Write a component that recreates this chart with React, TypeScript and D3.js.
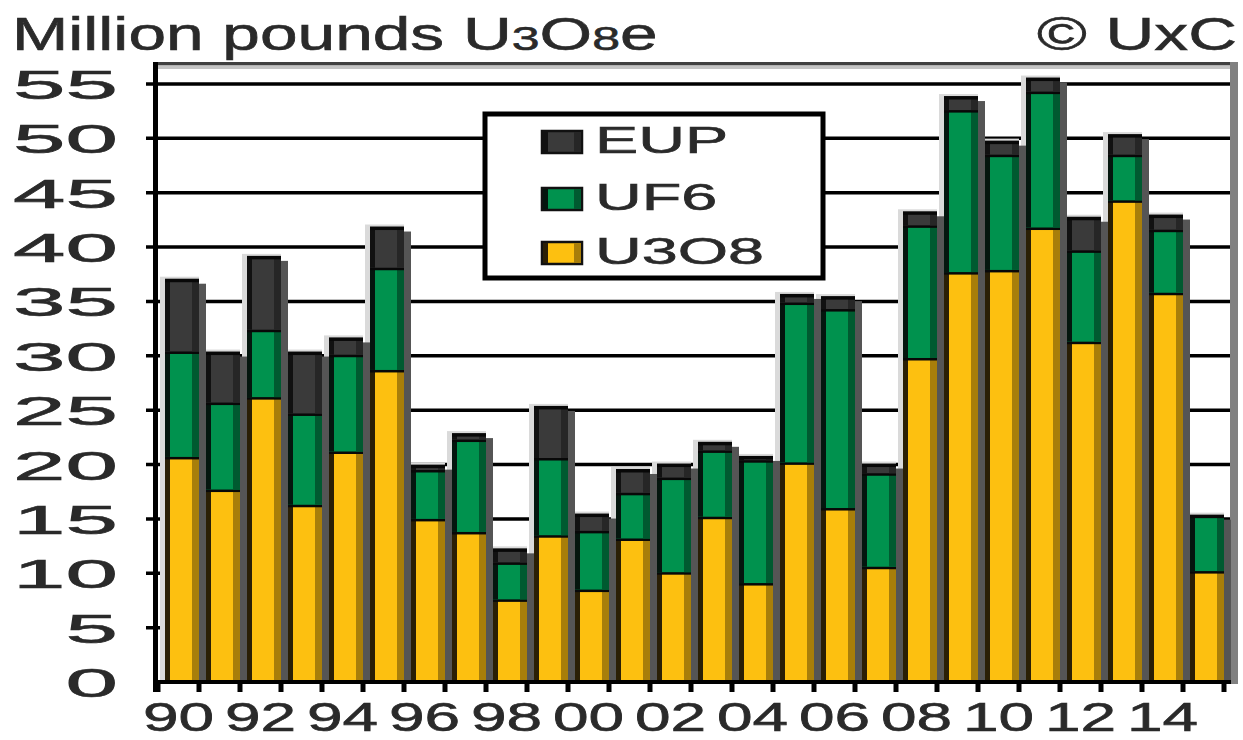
import React from 'react';
import * as d3 from 'd3';

const years = [1990, 1991, 1992, 1993, 1994, 1995, 1996, 1997, 1998, 1999, 2000, 2001, 2002, 2003, 2004, 2005, 2006, 2007, 2008, 2009, 2010, 2011, 2012, 2013, 2014, 2015];
const u3o8 = [20.7, 17.7, 26.2, 16.3, 21.2, 28.7, 15.0, 13.8, 7.6, 13.5, 8.5, 13.2, 10.1, 15.2, 9.1, 20.2, 16.0, 10.6, 29.8, 37.7, 37.9, 41.8, 31.3, 44.3, 35.8, 10.2];
const uf6 = [9.7, 8.0, 6.2, 8.4, 8.9, 9.4, 4.5, 8.5, 3.4, 7.1, 5.4, 4.2, 8.7, 6.1, 11.3, 14.7, 18.3, 8.6, 12.2, 14.9, 10.6, 12.5, 8.4, 4.2, 5.8, 5.1];
const eup = [6.6, 4.6, 6.7, 5.6, 1.5, 3.7, 0.4, 0.5, 1.2, 4.7, 1.5, 2.1, 1.2, 0.7, 0.3, 0.7, 1.1, 0.8, 1.2, 1.2, 1.2, 1.2, 3.0, 1.8, 1.3, 0.0];
const yTicks = [0, 5, 10, 15, 20, 25, 30, 35, 40, 45, 50, 55];
const xLabels = ['90', '92', '94', '96', '98', '00', '02', '04', '06', '08', '10', '12', '14'];
const xLabelYears = [1990, 1992, 1994, 1996, 1998, 2000, 2002, 2004, 2006, 2008, 2010, 2012, 2014];
const seriesKeys = ['u3o8', 'uf6', 'eup'];
const legendNames = ['EUP', 'UF6', 'U3O8'];
const legendKeys = ['eup', 'uf6', 'u3o8'];

const colors: Record<string, { main: string; left: string; right: string }> = {
  u3o8: { main: '#FDC010', left: '#2a1f05', right: '#A87E0A' },
  uf6: { main: '#00924E', left: '#04160E', right: '#005A30' },
  eup: { main: '#3A3A3A', left: '#111111', right: '#262626' },
};

const FONT = '"Liberation Sans", Arial, sans-serif';
const TEXT_FILL = '#2a2a2a';

export default function App() {
  const W = 1243;
  const H = 740;
  const x = d3.scaleBand<number>().domain(years).range([158, 1224]).padding(0);
  const y = d3.scaleLinear().domain([0, 55]).range([682, 84]);
  const bw = 34;
  const off = 7;

  const data = years.map((yr, i) => ({ year: yr, u3o8: u3o8[i], uf6: uf6[i], eup: eup[i] }));
  const stacked = d3.stack<any>().keys(seriesKeys)(data);

  const bars = years.map((yr, i) => {
    const bx = (x(yr) as number) + off;
    const segs = stacked.map((s) => ({ key: s.key, y0: s[i][0], y1: s[i][1] }));
    const total = segs[segs.length - 1].y1;
    return { yr, bx, segs, total };
  });

  const yTickLabelScale = 2.3;
  const xLabelScale = 1.6;
  const legScale = 1.75;
  const titleScale = 1.47;
  const textStroke = { stroke: TEXT_FILL, strokeWidth: 0.6 };

  return (
    <svg width={W} height={H} style={{ position: 'absolute', left: 0, top: 0, background: '#fff' }}>
      <rect x={0} y={0} width={W} height={H} fill="#fff" />
      {/* gridlines */}
      {yTicks.filter((v) => v > 0).map((v) => (
        <line key={v} x1={146} x2={1231} y1={y(v)} y2={y(v)} stroke="#000" strokeWidth={3.5} />
      ))}
      {/* frame */}
      <rect x={156} y={62} width={1082} height={3.5} fill="#404040" />
      <rect x={156} y={65.5} width={1075} height={3.5} fill="#c4c4c4" />
      <rect x={1230} y={62} width={8} height={622} fill="#808080" />
      {/* halos */}
      {bars.map((b) => (
        <rect key={'h' + b.yr} x={b.bx - 5} y={y(b.total) - 3} width={bw + 5} height={682 - y(b.total) + 3} fill="#dadada" />
      ))}
      {/* shadows */}
      {bars.map((b) => (
        <rect key={'s' + b.yr} x={b.bx + bw} y={y(b.total) + 4} width={7} height={682 - y(b.total) - 4} fill="#555555" />
      ))}
      {/* bars */}
      {bars.map((b) => (
        <g key={'b' + b.yr}>
          {b.segs.map((s) => {
            const top = y(s.y1);
            const bot = y(s.y0);
            const h = bot - top;
            if (h <= 0.01) return null;
            const c = colors[s.key];
            return (
              <g key={s.key}>
                <rect x={b.bx} y={top} width={bw} height={h} fill={c.main} />
                <rect x={b.bx} y={top} width={5} height={h} fill={c.left} />
                <rect x={b.bx + bw - 7} y={top} width={7} height={h} fill={c.right} />
                <rect x={b.bx} y={top - 1} width={bw} height={Math.min(3.5, h + 1)} fill="#080808" />
              </g>
            );
          })}
        </g>
      ))}
      {/* axes */}
      <rect x={153} y={62} width={5} height={630} fill="#000" />
      <rect x={153} y={680} width={1078} height={4} fill="#000" />
      {d3.range(years.length + 1).map((i) => {
        const tx = i < years.length ? (x(years[i]) as number) : 1224;
        return <rect key={'t' + i} x={tx - 2.5} y={682} width={5} height={10} fill="#000" />;
      })}
      {/* y tick labels */}
      {yTicks.map((v) => (
        <text
          key={'yl' + v}
          transform={`translate(118,${y(v) + 15}) scale(${yTickLabelScale},1)`}
          textAnchor="end"
          fontFamily={FONT}
          fontSize={41}
          fill={TEXT_FILL}
          {...textStroke}
        >
          {v}
        </text>
      ))}
      {/* x labels */}
      {xLabels.map((lab, i) => (
        <text
          key={'xl' + lab}
          transform={`translate(${(x(xLabelYears[i]) as number) + x.bandwidth() / 2},731) scale(${xLabelScale},1)`}
          textAnchor="middle"
          fontFamily={FONT}
          fontSize={40}
          fill={TEXT_FILL}
          {...textStroke}
        >
          {lab}
        </text>
      ))}
      {/* legend */}
      <rect x={485} y={114} width={338} height={164} fill="#fff" stroke="#000" strokeWidth={5} />
      {legendKeys.map((k, i) => {
        const sy = [131, 188, 242][i];
        const c = colors[k];
        return (
          <g key={'lg' + k}>
            <rect x={542} y={sy} width={40} height={22} fill={c.main} stroke="#111" strokeWidth={2.5} />
            <rect x={543} y={sy + 1} width={5} height={20} fill={c.left} />
            <rect x={574} y={sy + 1} width={7} height={20} fill={c.right} />
            <text
              transform={`translate(595,${sy + 22}) scale(${legScale},1)`}
              fontFamily={FONT}
              fontSize={37}
              fill={TEXT_FILL}
              {...textStroke}
            >
              {legendNames[i]}
            </text>
          </g>
        );
      })}
      {/* title */}
      <text transform={`translate(12,50) scale(${titleScale},1)`} fontFamily={FONT} fontSize={46} fill={TEXT_FILL} {...textStroke}>
        Million pounds U<tspan fontSize={34}>3</tspan>O<tspan fontSize={34}>8</tspan>e
      </text>
      <text transform={`translate(1237,50) scale(${titleScale},1)`} textAnchor="end" fontFamily={FONT} fontSize={46} fill={TEXT_FILL} {...textStroke}>
        © UxC
      </text>
    </svg>
  );
}
